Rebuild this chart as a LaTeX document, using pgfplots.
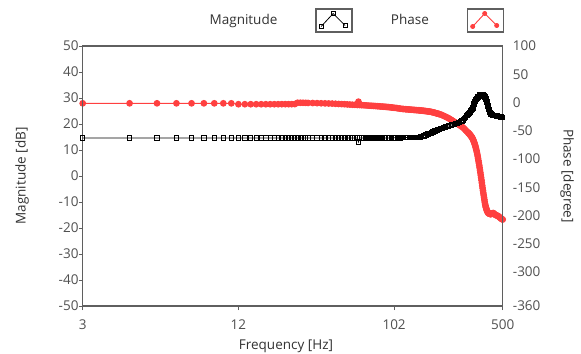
\documentclass[border=0pt]{standalone}
\usepackage{fontspec}
\setmainfont{Open Sans}
\usepackage{pgfplots}
\usepackage{pgfplotstable}
\pgfplotsset{compat=1.18}
\definecolor{phred}{RGB}{255,64,64}
\definecolor{axgray}{RGB}{95,95,95}
\definecolor{tickgray}{RGB}{80,80,80}
\definecolor{labgray}{RGB}{50,50,50}

\pgfplotstableread{
f mag ph
3 14.6 -1.4
4 14.6 -1.4
5 14.6 -1.4
6 14.6 -1.4
7 14.6 -1.4
8 14.6 -1.4
9 14.6 -1.4
10 14.6 -1.4
11 14.6 -1.4
12 14.6 -3.0
13 14.6 -3.0
14 14.6 -3.0
15 14.6 -3.0
16 14.6 -3.0
17 14.6 -3.0
18 14.6 -3.0
19 14.6 -3.0
20 14.6 -3.0
21 14.6 -2.9
22 14.6 -2.9
23 14.6 -2.9
24 14.6 -2.9
25 14.6 -2.8
26 14.6 -0.4
27 14.6 -0.4
28 14.6 -0.5
29 14.6 -0.6
30 14.6 -0.7
32 14.6 -0.9
34 14.6 -1.1
36 14.6 -1.3
38 14.6 -1.5
40 14.6 -1.7
42 14.6 -1.9
44 14.6 -2.2
46 14.6 -2.5
48 14.6 -2.8
50 14.6 -3.0
52 14.6 -3.3
54 14.6 -3.6
56 14.6 -3.9
58 14.6 -4.1
60 14.6 -4.3
61 13.1 1.5
62 14.6 -4.5
64 14.6 -4.7
66 14.6 -4.9
68 14.6 -5.1
70 14.6 -5.4
72 14.6 -5.6
74 14.6 -5.8
76 14.6 -6.0
78 14.6 -6.3
80 14.6 -6.5
82 14.6 -6.7
84 14.6 -7.0
86 14.6 -7.2
88 14.6 -7.4
90 14.6 -7.6
92 14.6 -7.9
94 14.6 -8.1
96 14.6 -8.4
98 14.7 -8.7
100 14.7 -9.0
102 14.7 -9.3
105 14.7 -9.6
107 14.7 -10.1
110 14.7 -10.6
112 14.7 -10.9
115 14.8 -11.3
117 14.8 -11.5
120 14.8 -11.8
122 14.8 -12.0
125 14.8 -12.2
127 14.8 -12.4
130 14.8 -12.6
132 14.8 -12.8
135 14.9 -13.0
137 14.9 -13.2
140 14.9 -13.4
142 14.9 -13.5
145 14.9 -13.7
147 14.9 -13.9
150 15.0 -14.1
152 15.1 -14.3
155 15.3 -14.5
157 15.4 -14.7
160 15.6 -15.0
162 15.8 -15.2
165 16.0 -15.5
167 16.1 -15.7
170 16.3 -16.0
172 16.4 -16.2
175 16.6 -16.6
177 16.7 -16.9
180 16.9 -17.4
182 17.1 -17.8
185 17.3 -18.3
187 17.4 -18.7
190 17.6 -19.2
192 17.7 -19.6
195 17.9 -20.1
197 18.0 -20.5
200 18.2 -21.0
205 18.4 -22.2
210 18.6 -23.5
215 18.8 -24.8
220 19.0 -26.2
225 19.2 -27.6
230 19.4 -29.2
235 19.6 -30.8
240 19.8 -32.4
245 19.9 -34.0
250 20.1 -35.5
255 20.3 -37.0
260 20.5 -38.5
265 20.7 -40.0
270 20.9 -41.5
275 21.2 -43.0
280 21.6 -44.8
285 22.1 -46.8
290 22.6 -49.0
295 23.2 -51.0
300 23.7 -53.0
302 23.9 -53.9
304 24.1 -54.7
306 24.3 -55.6
308 24.5 -56.5
310 24.7 -57.5
312 24.9 -58.5
314 25.1 -59.5
316 25.3 -60.6
318 25.5 -61.7
320 25.8 -63.0
322 26.2 -64.5
324 26.7 -66.1
326 27.2 -68.0
328 27.7 -70.0
330 28.2 -72.0
332 28.6 -74.3
334 28.9 -76.7
336 29.1 -79.3
338 29.4 -82.1
340 29.6 -85.0
342 29.8 -88.1
344 30.0 -91.4
346 30.2 -95.0
348 30.4 -99.0
350 30.5 -103.0
352 30.7 -107.0
354 30.8 -111.0
356 31.0 -115.2
358 31.1 -119.6
360 31.2 -124.0
362 31.2 -128.4
364 31.3 -132.8
366 31.3 -137.4
368 31.3 -142.2
370 31.3 -147.0
372 31.3 -151.4
374 31.2 -155.8
376 31.1 -160.0
378 31.0 -164.0
380 30.9 -168.0
382 30.7 -172.0
384 30.5 -176.0
386 30.3 -179.6
388 30.0 -182.6
390 29.7 -185.0
392 29.3 -187.0
394 28.9 -189.0
396 28.5 -190.8
398 28.0 -192.3
400 27.5 -193.5
402 27.0 -194.4
404 26.5 -195.2
406 26.0 -195.8
408 25.5 -196.2
410 25.1 -196.5
412 24.7 -196.8
414 24.4 -197.0
416 24.2 -197.1
418 24.0 -197.3
420 23.9 -197.5
425 23.6 -197.0
430 23.5 -196.0
435 23.4 -195.5
440 23.4 -196.5
445 23.3 -198.0
450 23.3 -199.0
455 23.2 -199.5
460 23.1 -200.0
465 23.0 -200.5
470 23.0 -201.5
475 22.9 -202.5
480 22.8 -203.5
485 22.7 -204.5
490 22.7 -205.5
495 22.6 -206.5
500 22.6 -207.0
}\bode

\tikzset{
  magplot/.style={black, line width=0.8bp, mark=square, mark size=2.2bp,
    mark options={solid, line width=0.9bp, draw=black}},
  phplot/.style={color=phred, line width=0.9bp, mark=*, mark size=2.9bp,
    mark options={solid, fill=phred, draw=phred}},
}

\begin{document}
\begin{tikzpicture}
\useasboundingbox (-82.7bp,-48bp) rectangle (498.3bp,306bp);
% Phase axis (right)
\begin{axis}[
  scale only axis, width=420bp, height=260bp,
  at={(0,0)}, anchor=south west,
  xmode=log, xmin=1, xmax=498,
  /pgf/number format/assume math mode=true,
  tick label style={font=\fontsize{13.5bp}{16bp}\selectfont, text=tickgray},
  hide x axis,
  axis y line*=right,
  y axis line style={draw=axgray, line width=1.2bp},
  ymin=-360, ymax=100,
  ytick={-360,-300,-250,-200,-150,-100,-50,0,50,100},
  major tick length=0pt,
  yticklabel style={anchor=west, inner sep=0pt, xshift=10bp},
  ylabel={Phase [degree]},
  every axis y label/.style={at={(axis description cs:1.1531,0.5)}, anchor=center, rotate=-90,
    font=\fontsize{13.5bp}{16bp}\selectfont, text=labgray},
]
\addplot[phplot] table[x expr=\thisrow{f}-2, y=ph] {\bode};
\end{axis}
% Magnitude axis (left)
\begin{axis}[
  scale only axis, width=420bp, height=260bp,
  at={(0,0)}, anchor=south west,
  xmode=log, xmin=1, xmax=498,
  /pgf/number format/assume math mode=true,
  tick label style={font=\fontsize{13.5bp}{16bp}\selectfont, text=tickgray},
  axis line style={draw=axgray, line width=1.2bp},
  tick style={draw=axgray, line width=1bp},
  tick pos=left, tick align=outside, major tick length=4bp,
  xminorticks=false,
  xtick={1,10,100,498}, xticklabels={3,12,102,500},
  ymin=-50, ymax=50, ytick={-50,-40,...,50},
  yticklabel style={anchor=east, inner sep=0pt},
  xticklabel style={anchor=north, inner sep=0pt, yshift=-10bp},
  xlabel={Frequency [Hz]},
  every axis x label/.style={at={(axis description cs:0.484,-0.154)}, anchor=center,
    font=\fontsize{13.5bp}{16bp}\selectfont, text=labgray},
  ylabel={Magnitude [dB]},
  every axis y label/.style={at={(axis description cs:-0.1445,0.5)}, anchor=center, rotate=90,
    font=\fontsize{13.5bp}{16bp}\selectfont, text=labgray},
  legend plot pos=right,
  legend columns=2,
  legend image code/.code={
    \draw[draw=axgray, line width=1.6bp, fill=white] (0bp,-11.5bp) rectangle (36bp,11.5bp);
    \draw[#1, mark size=2bp] plot coordinates {(5bp,-6bp) (17bp,7bp) (29bp,-5bp)};
  },
  legend style={at={(rel axis cs:1,1)}, anchor=south east, xshift=2bp, yshift=13bp,
    draw=none, fill=none, inner sep=0pt, column sep=38bp,
    nodes={inner sep=0pt, font=\fontsize{13.5bp}{16bp}\selectfont, text=labgray}},
]
\addplot[magplot] table[x expr=\thisrow{f}-2, y=mag] {\bode};
\addlegendimage{phplot}
\legend{Magnitude, Phase}
\end{axis}
\end{tikzpicture}
\end{document}
